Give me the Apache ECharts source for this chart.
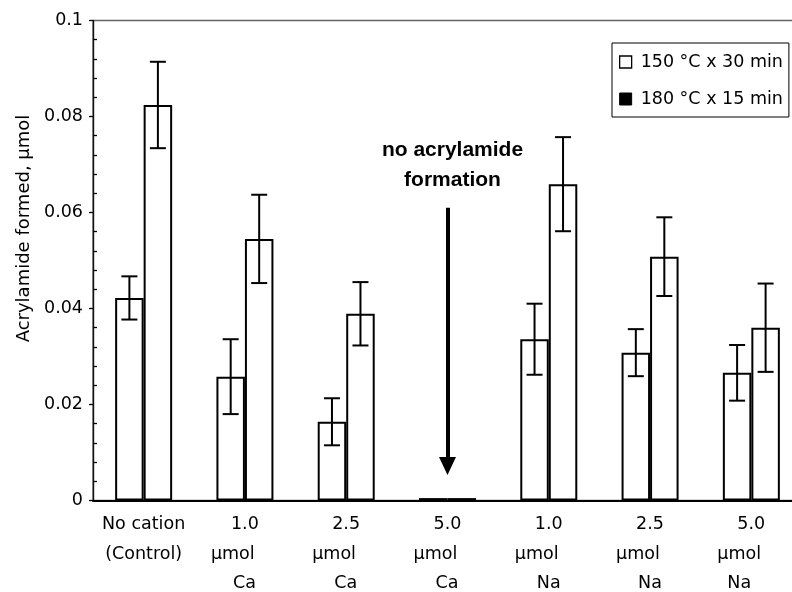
<!DOCTYPE html>
<html>
<head>
<meta charset="utf-8">
<title>Acrylamide formed</title>
<script src="https://cdn.jsdelivr.net/npm/echarts@6.0.0/dist/echarts.min.js"></script>
<style>
  html, body { margin: 0; padding: 0; background: #fff; }
  #chart { width: 792px; height: 592px; }
</style>
</head>
<body>
<div id="chart"></div>
<script>
// category label lines
const numLabels = ["No cation", "1.0", "2.5", "5.0", "1.0", "2.5", "5.0"];
const unitLabels = ["(Control)", "μmol", "μmol", "μmol", "μmol", "μmol", "μmol"];
const elemLabels = ["", "Ca", "Ca", "Ca", "Na", "Na", "Na"];

// series (μmol)
const seriesNames = ["150 °C x 30 min", "180 °C x 15 min"];
const mean150 = [0.0422, 0.0258, 0.0164, 0.0005, 0.0336, 0.0308, 0.0266];
const err150 = [0.0045, 0.0078, 0.0049, 0, 0.0074, 0.0049, 0.0058];
const mean180 = [0.0824, 0.0545, 0.0389, 0.0005, 0.0659, 0.0508, 0.036];
const err180 = [0.009, 0.0092, 0.0066, 0, 0.0098, 0.0082, 0.0092];

// y ticks
const yTicks = [0, 0.02, 0.04, 0.06, 0.08, 0.1];

// annotation arrow (category index, from / to value)
const arrowCat = 3;
const arrowFrom = 0.061;
const arrowTo = 0.0072;

const FONT = "DejaVu Sans";
const BAR_W = 28.5;
const numIndent = 20;
const elemIndent = [0, 22, 22, 22, 22, 22, 10];

const chart = echarts.init(document.getElementById("chart"));

const rich = {
  c: { align: "center", fontFamily: FONT, fontSize: 17.5, lineHeight: 29.5, color: "#000" },
  l: { align: "left", fontFamily: FONT, fontSize: 17.5, lineHeight: 29.5, color: "#000" },
};
[numIndent].concat(elemIndent).forEach((w) => {
  rich["p" + w] = { align: "left", width: w, fontSize: 17.5, lineHeight: 29.5 };
});

const catLabel = (i) => {
  if (!elemLabels[i]) {
    return "{c|" + numLabels[i] + "}\n{c|" + unitLabels[i] + "}";
  }
  return (
    "{p" + numIndent + "| }{l|" + numLabels[i] + "}\n" +
    "{l|" + unitLabels[i] + "}\n" +
    "{p" + elemIndent[i] + "| }{l|" + elemLabels[i] + "}"
  );
};

const barData = (arr) =>
  arr.map((v) => (v < 0.001 ? { value: v, itemStyle: { color: "#000" } } : v));

const errorSeries = (name, means, errs, side) => ({
  type: "custom",
  name: name,
  z: 5,
  silent: true,
  data: means.map((m, i) => [i, m - errs[i], m + errs[i], errs[i]]),
  encode: { x: 0, y: [1, 2] },
  renderItem: (params, api) => {
    if (!api.value(3)) return null;
    const lo = api.coord([api.value(0), api.value(1)]);
    const hi = api.coord([api.value(0), api.value(2)]);
    const x = lo[0] + side * BAR_W / 2;
    const cap = 8;
    const style = { stroke: "#000", lineWidth: 2 };
    return {
      type: "group",
      children: [
        { type: "line", shape: { x1: x, y1: lo[1], x2: x, y2: hi[1] }, style },
        { type: "line", shape: { x1: x - cap, y1: hi[1], x2: x + cap, y2: hi[1] }, style },
        { type: "line", shape: { x1: x - cap, y1: lo[1], x2: x + cap, y2: lo[1] }, style },
      ],
    };
  },
});

const arrowSeries = errorSeries("err150", mean150, err150, -1);
arrowSeries.markLine = {
  silent: true,
  symbol: ["none", "triangle"],
  symbolSize: [17, 18],
  lineStyle: { color: "#000", width: 4, type: "solid" },
  label: {
    show: true,
    position: "start",
    distance: 12,
    padding: [0, 0, 0, 10],
    formatter: "no acrylamide\nformation",
    fontFamily: "Liberation Sans",
    fontWeight: "bold",
    fontSize: 21,
    lineHeight: 30,
    color: "#000",
  },
  data: [[{ coord: [arrowCat, arrowFrom] }, { coord: [arrowCat, arrowTo] }]],
};

const option = {
  animation: false,
  backgroundColor: "#fff",
  textStyle: { fontFamily: FONT, color: "#000" },
  grid: {
    left: 93,
    top: 20.5,
    width: 709,
    height: 480,
    outerBoundsMode: "none",
    show: true,
    borderColor: "#666",
    borderWidth: 1.3,
    backgroundColor: "transparent",
  },
  legend: {
    orient: "vertical",
    left: 612,
    top: 43,
    padding: [9, 6, 8, 7],
    itemWidth: 12,
    itemHeight: 12,
    itemGap: 17,
    icon: "rect",
    borderColor: "#000",
    borderWidth: 1,
    textStyle: { fontFamily: FONT, fontSize: 17.5, lineHeight: 20, color: "#000", padding: [0, 0, 0, 4] },
    data: [
      { name: seriesNames[0], itemStyle: { color: "#fff", borderColor: "#000", borderWidth: 1.3 } },
      { name: seriesNames[1], itemStyle: { color: "#000", borderColor: "#000", borderWidth: 1 } },
    ],
  },
  xAxis: {
    type: "category",
    data: numLabels.map((_, i) => i),
    axisLine: { lineStyle: { color: "#000", width: 2 } },
    axisTick: { show: false },
    axisLabel: {
      interval: 0,
      margin: 9.5,
      width: 68,
      align: "center",
      formatter: (v, i) => catLabel(i),
      rich: rich,
    },
  },
  yAxis: [
    {
      type: "value",
      min: yTicks[0],
      max: yTicks[yTicks.length - 1],
      interval: 0.02,
      name: "Acrylamide formed, μmol",
      nameLocation: "middle",
      nameGap: 52,
      nameTextStyle: { fontFamily: FONT, fontSize: 18, color: "#000", padding: [0, 0, 0, 64] },
      axisLine: { show: true, lineStyle: { color: "#111", width: 1.4 } },
      axisTick: { show: true, inside: false, length: 4, lineStyle: { color: "#000", width: 1.3 } },
      axisLabel: {
        margin: 10,
        fontFamily: FONT,
        fontSize: 17.5,
        color: "#000",
        formatter: (v) => String(parseFloat(v.toFixed(2))),
      },
      splitLine: { show: false },
    },
    {
      // inward minor ticks
      type: "value",
      position: "left",
      min: yTicks[0],
      max: yTicks[yTicks.length - 1],
      interval: 0.02,
      axisLine: { show: false },
      axisLabel: { show: false },
      axisTick: { show: false, inside: true },
      minorTick: { show: true, splitNumber: 5, length: 4, lineStyle: { color: "#000", width: 1.3 } },
      splitLine: { show: false },
    },
  ],
  series: [
    {
      name: seriesNames[0],
      type: "bar",
      barWidth: BAR_W,
      barGap: "0%",
      data: barData(mean150),
      itemStyle: { color: "#fff", borderColor: "#000", borderWidth: 2 },
    },
    {
      name: seriesNames[1],
      type: "bar",
      barWidth: BAR_W,
      barGap: "0%",
      data: barData(mean180),
      itemStyle: { color: "#fff", borderColor: "#000", borderWidth: 2 },
    },
    arrowSeries,
    errorSeries("err180", mean180, err180, 1),
  ],
};

chart.setOption(option);
</script>
</body>
</html>
